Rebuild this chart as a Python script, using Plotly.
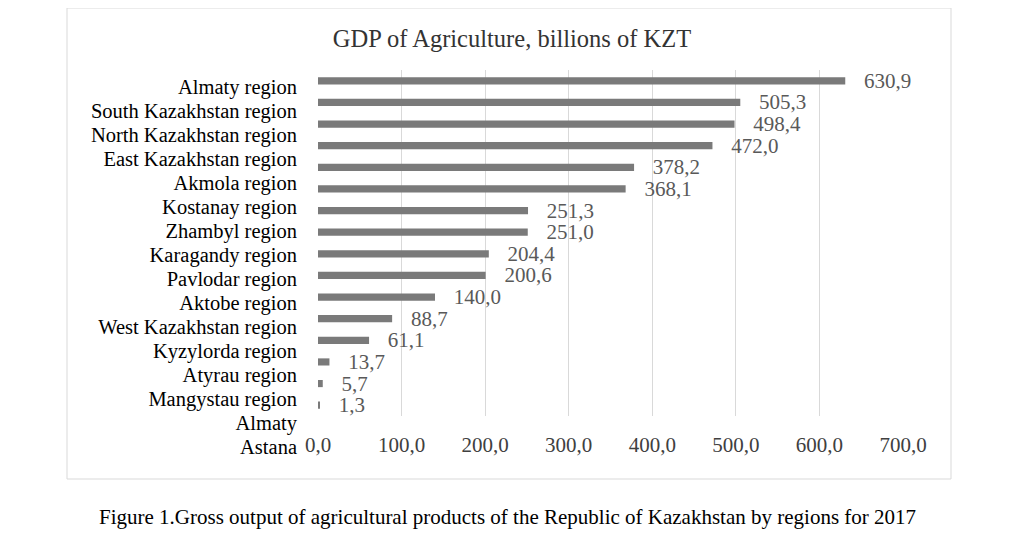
import plotly.graph_objects as go

# regions, top to bottom as in the chart
regions = [
    "Almaty region", "South Kazakhstan region", "North Kazakhstan region",
    "East Kazakhstan region", "Akmola region", "Kostanay region",
    "Zhambyl region", "Karagandy region", "Pavlodar region", "Aktobe region",
    "West Kazakhstan region", "Kyzylorda region", "Atyrau region",
    "Mangystau region", "Almaty", "Astana",
]
# GDP of agriculture, billions of KZT
gdp = [630.9, 505.3, 498.4, 472.0, 378.2, 368.1, 251.3, 251.0,
       204.4, 200.6, 140.0, 88.7, 61.1, 13.7, 5.7, 1.3]
x_ticks = [0, 100, 200, 300, 400, 500, 600, 700]

W, H = 1025, 547
OFF = 8  # page body margin
serif = "Liberation Serif"
n = len(regions)


def px_x(p):
    return (p - OFF) / W


def px_y(p):
    return 1 - (p - OFF) / H


fig = go.Figure()

fig.add_trace(go.Bar(
    x=gdp, y=regions, orientation="h",
    marker=dict(color="#7a7a7a", line=dict(width=0)),
    texttemplate="\u00a0\u00a0\u00a0%{x:.1f}",
    textposition="outside", constraintext="none", cliponaxis=False,
    textfont=dict(family=serif, size=21, color="#595959"),
    hoverinfo="x+y",
))

# the category labels sit on their own axis (spacing differs from the bars)
fig.add_trace(go.Scatter(
    x=gdp, y=regions, xaxis="x2", yaxis="y2",
    mode="markers", marker=dict(opacity=0), hoverinfo="skip",
    showlegend=False,
))

fig.update_layout(
    width=W, height=H,
    template="none",
    paper_bgcolor="white", plot_bgcolor="rgba(0,0,0,0)",
    margin=dict(l=0, r=0, t=0, b=0),
    separators=", ",
    showlegend=False,
    bargap=0.67,
    font=dict(family=serif, color="#000000"),
    title=dict(
        text="GDP of Agriculture, billions of KZT",
        x=px_x(512), xref="container", xanchor="center",
        y=px_y(38), yref="container", yanchor="middle",
        font=dict(family=serif, size=24.5, color="#333333"),
    ),
    xaxis=dict(
        domain=[px_x(318), px_x(903)], range=[0, 700],
        tickvals=x_ticks, tickformat=".1f",
        showgrid=True, gridcolor="#d9d9d9", gridwidth=1,
        zeroline=False, showline=False, ticks="",
        ticklabelstandoff=14, automargin=False,
        tickfont=dict(family=serif, size=21, color="#404040"),
        fixedrange=True,
    ),
    yaxis=dict(
        domain=[px_y(416), px_y(70)],
        type="category", categoryorder="array", categoryarray=regions,
        range=[n - 0.5, -0.5],
        showticklabels=False, showgrid=False, zeroline=False,
        showline=False, ticks="", automargin=False,
    ),
    xaxis2=dict(
        domain=[px_x(318), px_x(903)], range=[0, 700], anchor="y2",
        visible=False,
    ),
    yaxis2=dict(
        domain=[px_y(459), px_y(75)], anchor="x2",
        type="category", categoryorder="array", categoryarray=regions,
        range=[n - 0.5, -0.5],
        tickmode="array", tickvals=regions, ticktext=regions,
        showgrid=False, zeroline=False, showline=False, ticks="",
        ticklabelstandoff=20, automargin=False,
        tickfont=dict(family=serif, size=20.5, color="#000000"),
    ),
    shapes=[dict(
        type="rect", xref="paper", yref="paper",
        x0=px_x(67), x1=px_x(951), y0=px_y(479), y1=px_y(8),
        line=dict(color="#d9d9d9", width=1), layer="below",
    )],
    annotations=[dict(
        text="Figure 1.Gross output of agricultural products of the Republic "
             "of Kazakhstan by regions for 2017",
        xref="paper", yref="paper", x=px_x(507), y=px_y(517),
        xanchor="center", yanchor="middle", showarrow=False,
        font=dict(family=serif, size=21, color="#000000"),
    )],
)

fig.write_html("out.html")
